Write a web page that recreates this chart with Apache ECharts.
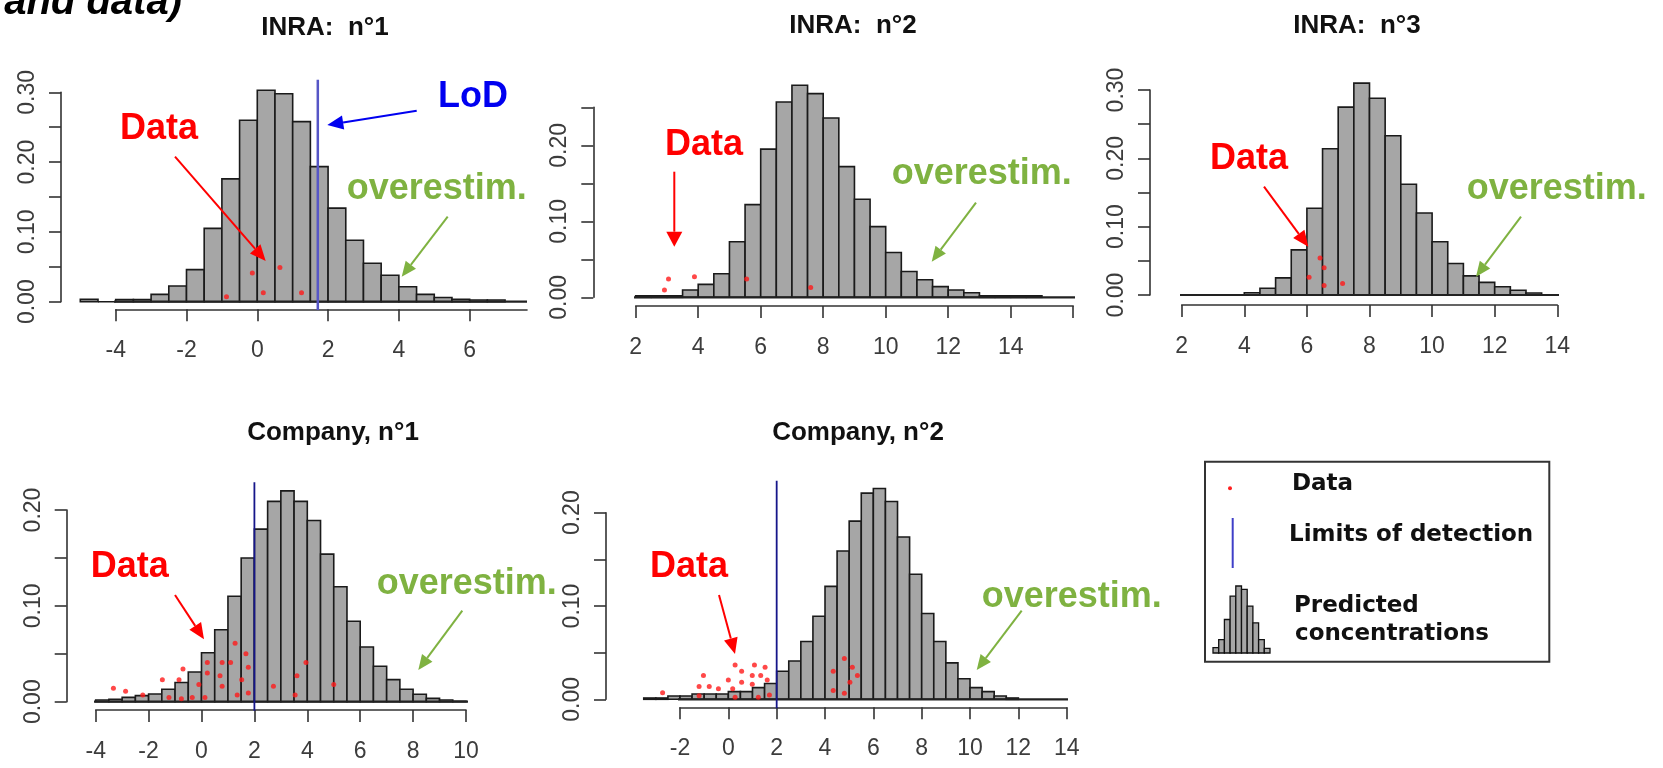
<!DOCTYPE html>
<html>
<head>
<meta charset="utf-8">
<script src="https://cdn.jsdelivr.net/npm/echarts@6/dist/echarts.min.js"></script>
<style>
  html, body { margin: 0; padding: 0; background: #fff; }
  #chart { width: 1663px; height: 768px; }
</style>
</head>
<body>
<div id="chart"></div>
<script>
// histogram breaks are 0.5 wide; edges are the left break of each bin
const binWidth = 0.5;

// INRA n°1
const inra1Edges = [-5, -4.5, -4, -3.5, -3, -2.5, -2, -1.5, -1, -0.5, 0, 0.5, 1, 1.5, 2, 2.5, 3, 3.5, 4, 4.5, 5, 5.5, 6, 6.5];
const inra1Dens = [0.0033, 0, 0.003, 0.003, 0.0105, 0.0225, 0.046, 0.105, 0.176, 0.26, 0.303, 0.298, 0.258, 0.1935, 0.134, 0.088, 0.055, 0.038, 0.0215, 0.0105, 0.006, 0.0033, 0.0025, 0.0025];
const inra1DataX = [-0.87, -0.14, 0.17, 0.64, 1.25];
const inra1DataY = [0.0072, 0.041, 0.013, 0.049, 0.013];

// INRA n°2
const inra2Edges = [2, 2.5, 3, 3.5, 4, 4.5, 5, 5.5, 6, 6.5, 7, 7.5, 8, 8.5, 9, 9.5, 10, 10.5, 11, 11.5, 12, 12.5, 13, 13.5, 14, 14.5];
const inra2Dens = [0.002, 0.002, 0.002, 0.0096, 0.017, 0.031, 0.073, 0.122, 0.195, 0.257, 0.279, 0.268, 0.236, 0.172, 0.129, 0.093, 0.059, 0.034, 0.023, 0.014, 0.0096, 0.006, 0.002, 0.002, 0.002, 0.002];
const inra2DataX = [2.92, 3.05, 3.88, 5.55, 7.6];
const inra2DataY = [0.0096, 0.024, 0.027, 0.024, 0.013];

// INRA n°3
const inra3Edges = [4, 4.5, 5, 5.5, 6, 6.5, 7, 7.5, 8, 8.5, 9, 9.5, 10, 10.5, 11, 11.5, 12, 12.5, 13];
const inra3Dens = [0.0034, 0.0098, 0.025, 0.066, 0.127, 0.214, 0.275, 0.31, 0.288, 0.233, 0.162, 0.12, 0.078, 0.046, 0.028, 0.0185, 0.012, 0.007, 0.003];
const inra3DataX = [6.42, 6.55, 6.07, 6.55, 7.14];
const inra3DataY = [0.054, 0.04, 0.026, 0.014, 0.017];

// Company n°1
const comp1Edges = [-4, -3.5, -3, -2.5, -2, -1.5, -1, -0.5, 0, 0.5, 1, 1.5, 2, 2.5, 3, 3.5, 4, 4.5, 5, 5.5, 6, 6.5, 7, 7.5, 8, 8.5, 9, 9.5];
const comp1Dens = [0.0017, 0.0024, 0.0045, 0.0063, 0.008, 0.013, 0.02, 0.031, 0.051, 0.075, 0.11, 0.15, 0.18, 0.209, 0.22, 0.209, 0.189, 0.154, 0.12, 0.084, 0.057, 0.037, 0.023, 0.013, 0.0077, 0.0035, 0.0017, 0.0005];
const comp1DataX = [-3.33, -2.87, -2.22, -1.48, -1.23, -0.85, -0.7, -0.76, -0.35, -0.1, 0.13, 0.22, 0.22, 0.7, 0.78, 0.78, 1.1, 1.27, 1.35, 1.52, 1.68, 1.77, 1.77, 2.72, 3.54, 3.61, 3.95, 5.0];
const comp1DataY = [0.014, 0.011, 0.007, 0.023, 0.0045, 0.023, 0.034, 0.003, 0.0045, 0.018, 0.0045, 0.041, 0.03, 0.027, 0.041, 0.016, 0.041, 0.061, 0.007, 0.023, 0.05, 0.036, 0.009, 0.016, 0.007, 0.027, 0.041, 0.018];

// Company n°2
const comp2Edges = [-3.5, -3, -2.5, -2, -1.5, -1, -0.5, 0, 0.5, 1, 1.5, 2, 2.5, 3, 3.5, 4, 4.5, 5, 5.5, 6, 6.5, 7, 7.5, 8, 8.5, 9, 9.5, 10, 10.5, 11, 11.5];
const comp2Dens = [0.0014, 0.0014, 0.0036, 0.0036, 0.0057, 0.0057, 0.0057, 0.0082, 0.0082, 0.0125, 0.017, 0.03, 0.041, 0.062, 0.089, 0.121, 0.159, 0.191, 0.221, 0.226, 0.212, 0.174, 0.134, 0.092, 0.062, 0.039, 0.022, 0.0125, 0.0082, 0.0036, 0.0014];
const comp2DataX = [-2.72, -1.03, -1.21, -1.21, -0.79, -0.41, 0.0, 0.18, 0.28, 0.28, 0.55, 0.55, 0.99, 0.99, 1.08, 1.24, 1.34, 1.52, 1.61, 1.7, 4.34, 4.34, 4.8, 4.8, 5.03, 5.13, 5.34];
const comp2DataY = [0.0071, 0.0254, 0.0136, 0.0039, 0.0136, 0.0114, 0.0207, 0.0114, 0.0021, 0.0368, 0.03, 0.0182, 0.0254, 0.0161, 0.0368, 0.0021, 0.0254, 0.0343, 0.0207, 0.0046, 0.03, 0.0093, 0.0436, 0.0064, 0.0182, 0.0343, 0.0254];

// limits of detection
const lodValues = [1.71, 1.73, 1.73, 2.0, 2.0];

// tick values / labels
const xTicks1 = [-4, -2, 0, 2, 4, 6];
const xTicks2 = [2, 4, 6, 8, 10, 12, 14, 16];
const xLabels2 = [2, 4, 6, 8, 10, 12, 14];
const xTicks3 = [2, 4, 6, 8, 10, 12, 14];
const xTicks4 = [-4, -2, 0, 2, 4, 6, 8, 10];
const xTicks5 = [-2, 0, 2, 4, 6, 8, 10, 12, 14];
const yTicks30 = [0, 0.05, 0.1, 0.15, 0.2, 0.25, 0.3];
const yTicks25 = [0, 0.05, 0.1, 0.15, 0.2, 0.25];
const yTicks20 = [0, 0.05, 0.1, 0.15, 0.2];
const yLabels30 = [0, 0.1, 0.2, 0.3];
const yLabels20 = [0, 0.1, 0.2];

// legend icon histogram
const iconEdges = [0, 1, 2, 3, 4, 5, 6, 7, 8, 9];
const iconDens = [0.08, 0.2, 0.5, 0.85, 1.0, 0.95, 0.7, 0.45, 0.2, 0.07];

const titles = ['INRA:  n°1', 'INRA:  n°2', 'INRA:  n°3', 'Company, n°1', 'Company, n°2'];

const panels = [
  { edges: inra1Edges, dens: inra1Dens, px: inra1DataX, py: inra1DataY, lod: lodValues[0],
    lodSpan: [-0.012, 0.318], base: [-5.12, 7.62], xr: [-4, 7.62], yr: [0, 0.3],
    xTicks: xTicks1, xLabels: xTicks1, yTicks: yTicks30, yLabels: yLabels30,
    grid: { left: 115.7, top: 92.3, width: 411.3, height: 209.4 }, xOff: 7.6, yOff: 54.7,
    lodColor: '#5656c6', lodWidth: 2.5 },
  { edges: inra2Edges, dens: inra2Dens, px: inra2DataX, py: inra2DataY, lod: lodValues[1],
    lodSpan: [-0.0124, 0.291], base: [1.28, 16.1], xr: [2, 16], yr: [0, 0.25],
    xTicks: xTicks2, xLabels: xLabels2, yTicks: yTicks25, yLabels: yLabels20,
    grid: { left: 635.7, top: 107.3, width: 437.5, height: 190 }, xOff: 8.7, yOff: 42.4,
    lodColor: '#5656c6', lodWidth: 2.5 },
  { edges: inra3Edges, dens: inra3Dens, px: inra3DataX, py: inra3DataY, lod: lodValues[2],
    lodSpan: [-0.0146, 0.3234], base: [1.5, 14.73], xr: [2, 14], yr: [0, 0.3],
    xTicks: xTicks3, xLabels: xTicks3, yTicks: yTicks30, yLabels: yLabels30,
    grid: { left: 1181.7, top: 90, width: 375.6, height: 205 }, xOff: 10, yOff: 31.7,
    lodColor: '#5656c6', lodWidth: 2.5 },
  { edges: comp1Edges, dens: comp1Dens, px: comp1DataX, py: comp1DataY, lod: lodValues[3],
    lodSpan: [-0.0094, 0.229], base: [-4.7, 11.9], xr: [-4, 10], yr: [0, 0.2],
    xTicks: xTicks4, xLabels: xTicks4, yTicks: yTicks20, yLabels: yLabels20,
    grid: { left: 95.7, top: 510, width: 370.3, height: 191.7 }, xOff: 8.3, yOff: 29,
    lodColor: '#16168a', lodWidth: 1.8 },
  { edges: comp2Edges, dens: comp2Dens, px: comp2DataX, py: comp2DataY, lod: lodValues[4],
    lodSpan: [-0.0096, 0.2343], base: [-4.47, 16.8], xr: [-2, 14], yr: [0, 0.2],
    xTicks: xTicks5, xLabels: xTicks5, yTicks: yTicks20, yLabels: yLabels20,
    grid: { left: 680, top: 512.7, width: 386.7, height: 186.6 }, xOff: 8, yOff: 74,
    lodColor: '#16168a', lodWidth: 1.8 }
];

const axisStyle = { color: '#333', width: 1.6 };
const tickFont = { fontSize: 23, color: '#3c3c3c', fontFamily: 'Liberation Sans' };

function histItem(params, api) {
  const p0 = api.coord([api.value(0), api.value(2)]);
  const p1 = api.coord([api.value(1), 0]);
  return {
    type: 'rect',
    shape: { x: p0[0], y: p0[1], width: p1[0] - p0[0], height: p1[1] - p0[1] },
    style: { fill: '#a6a6a6', stroke: '#1a1a1a', lineWidth: 1.6 }
  };
}

const grids = [], xAxes = [], yAxes = [], series = [];

panels.forEach((p, i) => {
  grids.push(p.grid);
  xAxes.push({
    type: 'value', gridIndex: i, min: p.xr[0], max: p.xr[1], position: 'bottom', offset: p.xOff,
    axisLine: { show: true, onZero: false, lineStyle: axisStyle },
    axisTick: { show: true, length: 12, customValues: p.xTicks, lineStyle: axisStyle },
    axisLabel: Object.assign({ customValues: p.xLabels, margin: 30, hideOverlap: false }, tickFont),
    splitLine: { show: false }
  });
  yAxes.push({
    type: 'value', gridIndex: i, min: p.yr[0], max: p.yr[1], position: 'left', offset: p.yOff,
    axisLine: { show: true, onZero: false, lineStyle: axisStyle },
    axisTick: { show: true, length: 12, customValues: p.yTicks, lineStyle: axisStyle },
    axisLabel: Object.assign({ customValues: p.yLabels, rotate: 90, margin: 22, hideOverlap: false,
      formatter: v => v.toFixed(2) }, tickFont),
    splitLine: { show: false }
  });
  series.push({
    type: 'custom', xAxisIndex: i, yAxisIndex: i, clip: false, renderItem: histItem,
    encode: { x: [0, 1], y: 2 },
    data: p.edges.map((e, k) => [e, e + binWidth, p.dens[k]]),
    z: 2
  });
  series.push({
    type: 'line', xAxisIndex: i, yAxisIndex: i, clip: false, symbol: 'none', silent: true,
    data: [[p.base[0], 0], [p.base[1], 0]],
    lineStyle: { color: '#222', width: 2.2 }, z: 3
  });
  series.push({
    type: 'line', xAxisIndex: i, yAxisIndex: i, clip: false, symbol: 'none', silent: true,
    data: [[p.lod, p.lodSpan[0]], [p.lod, p.lodSpan[1]]],
    lineStyle: { color: p.lodColor, width: p.lodWidth }, z: 4
  });
  series.push({
    type: 'scatter', xAxisIndex: i, yAxisIndex: i, clip: false, symbol: 'circle', symbolSize: 5,
    data: p.px.map((x, k) => [x, p.py[k]]),
    itemStyle: { color: '#ff1a1a' }, z: 5
  });
});

// legend icon histogram on its own small grid
grids.push({ left: 1213, top: 586, width: 57, height: 67 });
xAxes.push({ type: 'value', gridIndex: 5, min: 0, max: 10, show: false });
yAxes.push({ type: 'value', gridIndex: 5, min: 0, max: 1, show: false });
series.push({
  type: 'custom', xAxisIndex: 5, yAxisIndex: 5, clip: false,
  renderItem: (params, api) => {
    const p0 = api.coord([api.value(0), api.value(2)]);
    const p1 = api.coord([api.value(1), 0]);
    return {
      type: 'rect',
      shape: { x: p0[0], y: p0[1], width: p1[0] - p0[0], height: p1[1] - p0[1] },
      style: { fill: '#a6a6a6', stroke: '#111', lineWidth: 1.3 }
    };
  },
  encode: { x: [0, 1], y: 2 },
  data: iconEdges.map((e, k) => [e, e + 1, iconDens[k]])
});

// annotation helpers (drawn above the bars)
function arrow(x1, y1, x2, y2, color, w, hl, hw) {
  const a = Math.atan2(y2 - y1, x2 - x1);
  const bx = x2 - hl * Math.cos(a), by = y2 - hl * Math.sin(a);
  const nx = -Math.sin(a) * hw / 2, ny = Math.cos(a) * hw / 2;
  return [
    { type: 'line', silent: true, z: 100, shape: { x1: x1, y1: y1, x2: bx, y2: by }, style: { stroke: color, lineWidth: w } },
    { type: 'polygon', silent: true, z: 100, shape: { points: [[x2, y2], [bx + nx, by + ny], [bx - nx, by - ny]] }, style: { fill: color } }
  ];
}
function label(x, y, text, color, font, align) {
  return {
    type: 'text', silent: true, z: 100, x: x, y: y,
    style: { text: text, fill: color, font: font, textAlign: align || 'left', align: align || 'left',
      textVerticalAlign: 'middle', verticalAlign: 'middle' }
  };
}

const RED = '#ff0000', BLUE = '#0000f0', GREEN = '#7fb241';
const annFont = 'bold 36px "Liberation Sans", Arial, sans-serif';
const titleFont = 'bold 26px "Liberation Sans", Arial, sans-serif';
const legFont = 'bold 23px "DejaVu Sans", sans-serif';

let graphics = [
  label(182, 3, 'and data)', '#000', 'italic bold 40px "Liberation Sans", Arial, sans-serif', 'right'),
  label(325, 27.5, titles[0], '#111', titleFont, 'center'),
  label(853, 26, titles[1], '#111', titleFont, 'center'),
  label(1357, 26, titles[2], '#111', titleFont, 'center'),
  label(333, 433, titles[3], '#111', titleFont, 'center'),
  label(858, 433, titles[4], '#111', titleFont, 'center'),

  label(120, 129, 'Data', RED, annFont),
  label(438, 97.5, 'LoD', BLUE, annFont),
  label(346.7, 189, 'overestim.', GREEN, annFont),
  label(665, 144.8, 'Data', RED, annFont),
  label(891.7, 174.2, 'overestim.', GREEN, annFont),
  label(1210, 159.2, 'Data', RED, annFont),
  label(1466.7, 189.2, 'overestim.', GREEN, annFont),
  label(90.7, 567.5, 'Data', RED, annFont),
  label(376.7, 584.2, 'overestim.', GREEN, annFont),
  label(650, 567.5, 'Data', RED, annFont),
  label(981.7, 597.5, 'overestim.', GREEN, annFont),

  // legend box
  { type: 'rect', silent: true, z: 100, shape: { x: 1205, y: 461.7, width: 344.3, height: 200 },
    style: { fill: 'none', stroke: '#333', lineWidth: 2 } },
  { type: 'circle', silent: true, z: 100, shape: { cx: 1230, cy: 488.3, r: 2 }, style: { fill: '#ff2020' } },
  { type: 'line', silent: true, z: 100, shape: { x1: 1232.7, y1: 518, x2: 1232.7, y2: 568 }, style: { stroke: '#3f3fc8', lineWidth: 2 } },
  label(1292, 484, 'Data', '#111', legFont),
  label(1289, 535, 'Limits of detection', '#111', legFont),
  label(1294, 606, 'Predicted', '#111', legFont),
  label(1295, 634, 'concentrations', '#111', legFont)
];

graphics = graphics
  .concat(arrow(175, 156.7, 265.7, 261, RED, 2, 16, 14))
  .concat(arrow(416.7, 110.7, 327.3, 125, BLUE, 2, 16, 14))
  .concat(arrow(447.7, 216.7, 401.7, 276.7, GREEN, 2, 15, 13))
  .concat(arrow(674.3, 171.7, 674.3, 246.7, RED, 2, 15, 16))
  .concat(arrow(976, 202.7, 931.7, 261.7, GREEN, 2, 15, 13))
  .concat(arrow(1264, 186.7, 1308.3, 246.7, RED, 2, 16, 14))
  .concat(arrow(1521, 216.7, 1476, 276.7, GREEN, 2, 15, 13))
  .concat(arrow(175, 595, 204, 639.3, RED, 2, 16, 14))
  .concat(arrow(462.3, 610.7, 418.3, 670, GREEN, 2, 15, 13))
  .concat(arrow(719, 595, 735, 654, RED, 2, 16, 14))
  .concat(arrow(1021.7, 610.7, 976.7, 670, GREEN, 2, 15, 13));

const chart = echarts.init(document.getElementById('chart'));
chart.setOption({
  animation: false,
  backgroundColor: '#fff',
  grid: grids,
  xAxis: xAxes,
  yAxis: yAxes,
  series: series,
  graphic: graphics
});
window.addEventListener('resize', chart.resize);
</script>
</body>
</html>
